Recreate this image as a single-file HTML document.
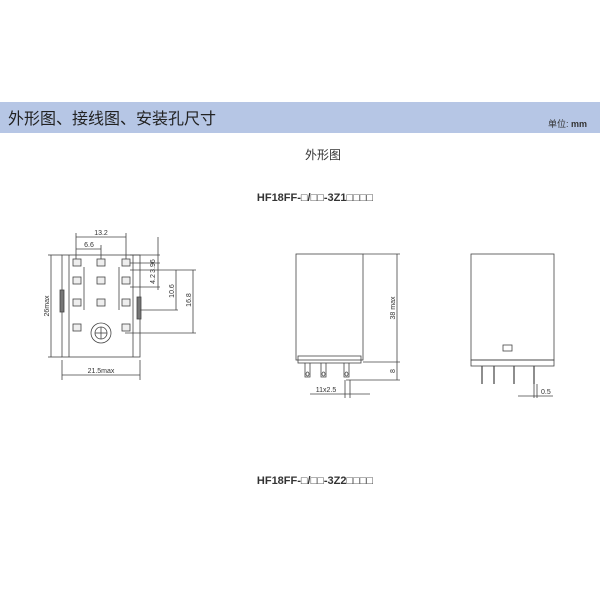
<!DOCTYPE html>
<html><head><meta charset="utf-8"><style>
body{margin:0;background:#fff;width:600px;height:600px;overflow:hidden;font-family:"Liberation Sans","Noto Sans CJK SC",sans-serif}
</style></head><body>
<svg width="600" height="600" xmlns="http://www.w3.org/2000/svg" font-family="Liberation Sans, Noto Sans CJK SC, sans-serif">
<rect x="0" y="102" width="600" height="31" fill="#b6c6e5"/>
<text x="8" y="124" font-size="16" fill="#222">外形图、接线图、安装孔尺寸</text>
<text x="548" y="127" font-size="9" fill="#333">单位: <tspan font-weight="bold">mm</tspan></text>
<text x="323" y="159" font-size="12" fill="#333" text-anchor="middle">外形图</text>
<text x="315" y="201" font-size="11" fill="#333" font-weight="bold" text-anchor="middle">HF18FF-□/□□-3Z1□□□□</text>
<text x="315" y="484" font-size="11" fill="#333" font-weight="bold" text-anchor="middle">HF18FF-□/□□-3Z2□□□□</text>
<g stroke="#444" stroke-width="0.8" fill="none">
<rect x="62" y="255" width="78" height="102"/>
<line x1="69" y1="255" x2="69" y2="357"/><line x1="133" y1="255" x2="133" y2="357"/>
<rect x="60" y="290" width="4" height="22" fill="#777"/><rect x="137" y="297" width="4" height="22" fill="#777"/>
<line x1="84" y1="267" x2="84" y2="310"/><line x1="119" y1="267" x2="119" y2="310"/>
<circle cx="101" cy="333" r="10"/><circle cx="101" cy="333" r="6"/>
<line x1="95" y1="333" x2="107" y2="333"/><line x1="101" y1="327" x2="101" y2="339"/>
<g fill="#eee">
<rect x="73" y="259" width="8" height="7"/><rect x="97" y="259" width="8" height="7"/><rect x="122" y="259" width="8" height="7"/>
<rect x="73" y="277" width="8" height="7"/><rect x="97" y="277" width="8" height="7"/><rect x="122" y="277" width="8" height="7"/>
<rect x="73" y="299" width="8" height="7"/><rect x="97" y="299" width="8" height="7"/><rect x="122" y="299" width="8" height="7"/>
<rect x="73" y="324" width="8" height="7"/><rect x="122" y="324" width="8" height="7"/>
</g>
<line x1="76" y1="237" x2="126" y2="237"/><line x1="76" y1="233" x2="76" y2="259"/><line x1="126" y1="233" x2="126" y2="259"/>
<line x1="76" y1="249" x2="101" y2="249"/><line x1="101" y1="245" x2="101" y2="259"/>
<line x1="51" y1="255" x2="51" y2="357"/><line x1="48" y1="255" x2="62" y2="255"/><line x1="48" y1="357" x2="62" y2="357"/>
<line x1="62" y1="375" x2="140" y2="375"/><line x1="62" y1="360" x2="62" y2="380"/><line x1="140" y1="360" x2="140" y2="380"/>
<line x1="158" y1="237" x2="158" y2="290"/><line x1="130" y1="255" x2="160" y2="255"/><line x1="130" y1="263" x2="160" y2="263"/><line x1="130" y1="287" x2="160" y2="287"/>
<line x1="176" y1="270" x2="176" y2="310"/><line x1="130" y1="270" x2="196" y2="270"/><line x1="140" y1="310" x2="178" y2="310"/>
<line x1="193" y1="270" x2="193" y2="333"/><line x1="125" y1="333" x2="196" y2="333"/>
<rect x="296" y="254" width="67" height="106"/>
<rect x="298" y="356" width="63" height="7"/>
<path d="M305 363 v14 h5 v-14 M321 363 v14 h5 v-14 M344 363 v14 h5 v-14"/>
<ellipse cx="307.5" cy="374" rx="1.5" ry="2"/><ellipse cx="323.5" cy="374" rx="1.5" ry="2"/><ellipse cx="346.5" cy="374" rx="1.5" ry="2"/>
<line x1="363" y1="254" x2="400" y2="254"/><line x1="363" y1="362" x2="400" y2="362"/><line x1="346" y1="380" x2="400" y2="380"/>
<line x1="397" y1="254" x2="397" y2="380"/>
<line x1="345" y1="380" x2="345" y2="398"/><line x1="350" y1="380" x2="350" y2="398"/><line x1="310" y1="394" x2="370" y2="394"/>
<rect x="471" y="254" width="83" height="106"/>
<rect x="471" y="360" width="83" height="6"/>
<rect x="503" y="345" width="9" height="6"/>
<path d="M482 366 v18 M494 366 v18 M514 366 v18 M534 366 v18" stroke-width="1.2"/>
<line x1="534" y1="384" x2="534" y2="398"/><line x1="537" y1="384" x2="537" y2="398"/><line x1="518" y1="396" x2="553" y2="396"/>
</g>
<g fill="#333" font-size="7">
<text x="101" y="235" text-anchor="middle">13.2</text>
<text x="89" y="247" text-anchor="middle">6.6</text>
<text x="101" y="373" text-anchor="middle">21.5max</text>
<text transform="translate(49,306) rotate(-90)" text-anchor="middle">26max</text>
<text transform="translate(155,266) rotate(-90)" text-anchor="middle">3.96</text>
<text transform="translate(155,279) rotate(-90)" text-anchor="middle">4.2</text>
<text transform="translate(174,291) rotate(-90)" text-anchor="middle">10.6</text>
<text transform="translate(191,300) rotate(-90)" text-anchor="middle">16.8</text>
<text transform="translate(395,308) rotate(-90)" text-anchor="middle">38 max</text>
<text transform="translate(395,371) rotate(-90)" text-anchor="middle">8</text>
<text x="326" y="392" text-anchor="middle">11x2.5</text>
<text x="541" y="394">0.5</text>
</g>
</svg>
</body></html>
